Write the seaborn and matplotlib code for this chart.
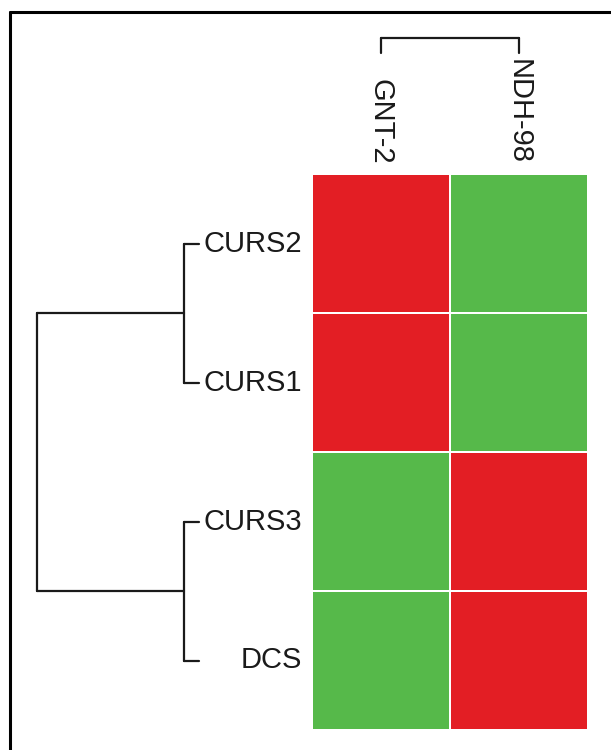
import numpy as np
import pandas as pd
import matplotlib
matplotlib.use("Agg")
import matplotlib.pyplot as plt
from matplotlib.colors import ListedColormap
from matplotlib.lines import Line2D
from matplotlib import font_manager
import seaborn as sns

# Data
ROW_LABELS = ["CURS2", "CURS1", "CURS3", "DCS"]
COL_LABELS = ["GNT-2", "NDH-98"]
GNT2_VALUES = [1, 1, -1, -1]
NDH98_VALUES = [-1, -1, 1, 1]
# linkage rows: (child a, child b, merge height); leaves are 0..n-1
ROW_LINKAGE = [(0, 1, 0.6), (2, 3, 0.6), (4, 5, 6.5)]
COL_LINKAGE = [(0, 1, 1.0)]

GREEN = "#56b94a"
RED = "#e31e24"
LINE = "#1a1a1a"

sns.set_style("white")
names = {f.name for f in font_manager.fontManager.ttflist}
if "Liberation Sans Narrow" in names:
    plt.rcParams["font.family"] = ["Liberation Sans Narrow", "DejaVu Sans"]
    LABEL_SIZE = 26
else:
    plt.rcParams["font.family"] = ["Liberation Sans", "DejaVu Sans"]
    LABEL_SIZE = 21


def draw_dendrogram(ax, linkage, n_leaves, orient="left"):
    # leaf i sits at centre of cell i
    pos = {i: i + 0.5 for i in range(n_leaves)}
    hgt = {i: 0.0 for i in range(n_leaves)}
    for k, (a, b, h) in enumerate(linkage):
        node = n_leaves + k
        for child in (a, b):
            p, ch = pos[child], hgt[child]
            if orient == "left":
                ax.plot([ch, h], [p, p], color=LINE, lw=1.6, clip_on=False)
            else:
                ax.plot([p, p], [ch, h], color=LINE, lw=1.6, clip_on=False)
        if orient == "left":
            ax.plot([h, h], [pos[a], pos[b]], color=LINE, lw=1.6, clip_on=False)
        else:
            ax.plot([pos[a], pos[b]], [h, h], color=LINE, lw=1.6, clip_on=False)
        pos[node] = (pos[a] + pos[b]) / 2
        hgt[node] = h
    ax.set_axis_off()


df = pd.DataFrame({COL_LABELS[0]: GNT2_VALUES, COL_LABELS[1]: NDH98_VALUES},
                  index=ROW_LABELS)

W, H = 611, 750
fig = plt.figure(figsize=(W / 100, H / 100), dpi=100)

# heatmap
ax_hm = fig.add_axes([312 / W, 1 - 730 / H, 276 / W, 556 / H])
sns.heatmap(df, ax=ax_hm, cmap=ListedColormap([GREEN, RED]), vmin=-1, vmax=1,
            cbar=False, linewidths=1.1, linecolor="white", square=False)
ax_hm.xaxis.tick_top()
ax_hm.set_xlabel("")
ax_hm.set_ylabel("")
ax_hm.tick_params(axis="both", length=0, labelsize=LABEL_SIZE, colors="#1a1a1a")
ax_hm.tick_params(axis="x", pad=7)
ax_hm.tick_params(axis="y", pad=7)
plt.setp(ax_hm.get_xticklabels(), rotation=270, va="bottom", ha="center")
plt.setp(ax_hm.get_yticklabels(), rotation=0, ha="right", va="center")

# row dendrogram
ax_rd = fig.add_axes([37 / W, 1 - 730 / H, 162 / W, 556 / H])
draw_dendrogram(ax_rd, ROW_LINKAGE, len(ROW_LABELS), orient="left")
ax_rd.set_xlim(max(h for _, _, h in ROW_LINKAGE), 0)
ax_rd.set_ylim(len(ROW_LABELS), 0)

# column dendrogram
ax_cd = fig.add_axes([312 / W, 1 - 53 / H, 276 / W, 15 / H])
draw_dendrogram(ax_cd, COL_LINKAGE, len(COL_LABELS), orient="top")
ax_cd.set_xlim(0, len(COL_LABELS))
ax_cd.set_ylim(0, max(h for _, _, h in COL_LINKAGE))

# outer frame (left and top only are visible)
fx, fy = 10 / W, 1 - 12 / H
fig.add_artist(Line2D([fx, fx], [0, fy], transform=fig.transFigure, color="black", lw=2.2))
fig.add_artist(Line2D([fx, 1], [fy, fy], transform=fig.transFigure, color="black", lw=2.2))

fig.savefig("out.png", dpi=100)
